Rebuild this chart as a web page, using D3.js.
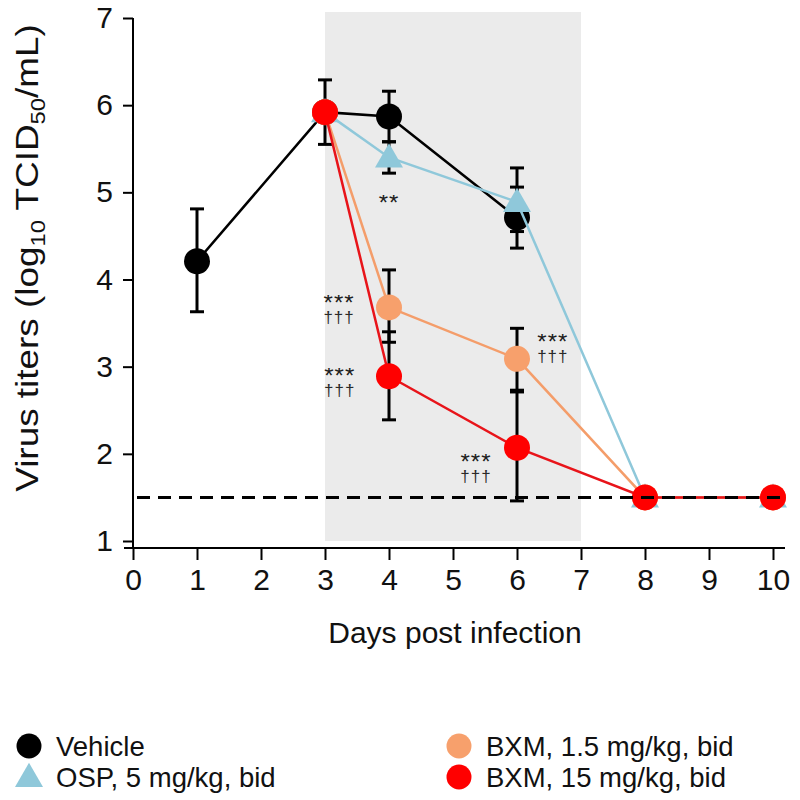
<!DOCTYPE html>
<html><head><meta charset="utf-8">
<script src="https://cdn.jsdelivr.net/npm/d3@7"></script>
<style>
html,body{margin:0;padding:0;background:#fff;}
text{font-family:Arial,"Liberation Sans",sans-serif;fill:#111;}
.annot{font-family:Arial,"Liberation Sans",sans-serif;color:#2a2a2a;text-align:center;white-space:pre;
  font-size:17px;line-height:15px;letter-spacing:1px;}
.annot::first-line{font-size:24px;color:#1e1e1e;}
</style></head>
<body>
<svg id="c" width="800" height="800"></svg>
<script>
// ---- data ----
const xTicks = [0,1,2,3,4,5,6,7,8,9,10];
const yTicks = [1,2,3,4,5,6,7];
const limitOfDetection = 1.5;
const treatmentWindow = [3, 7];

const vehicleDays = [1,3,4,6];
const vehicleMean = [4.21,5.92,5.87,4.71];
const vehicleHi   = [4.81,6.29,6.16,5.06];
const vehicleLo   = [3.63,5.55,5.58,4.36];

const ospDays = [3,4,6,8,10];
const ospMean = [5.92,5.40,4.89,1.5,1.5];
const ospHi   = [null,5.58,5.28,null,null];
const ospLo   = [null,5.22,4.55,null,null];

const bxmLowDays = [3,4,6,8,10];
const bxmLowMean = [5.92,3.68,3.09,1.5,1.5];
const bxmLowHi   = [null,4.11,3.44,null,null];
const bxmLowLo   = [null,3.28,2.73,null,null];

const bxmHighDays = [3,4,6,8,10];
const bxmHighMean = [5.92,2.89,2.07,1.5,1.5];
const bxmHighHi   = [null,3.40,2.71,null,null];
const bxmHighLo   = [null,2.39,1.46,null,null];

const seriesNames = ["Vehicle","OSP, 5 mg/kg, bid","BXM, 1.5 mg/kg, bid","BXM, 15 mg/kg, bid"];

// significance annotations: anchor (day, value) of the asterisk row, and the text rows
const annotDay   = [4, 3.22, 3.23, 6.56, 5.36];
const annotValue = [4.93, 3.79, 2.95, 3.34, 1.96];
const annotStars = ["**","***","***","***","***"];
const annotDaggers = ["","†††","†††","†††","†††"];

// ---- build ----
const svg = d3.select("#c");
const x = d3.scaleLinear().domain([0,10]).range([133,773]);
const y = d3.scaleLinear().domain([1,7]).range([541,18]);

const series = [
  {name:seriesNames[0], days:vehicleDays, mean:vehicleMean, hi:vehicleHi, lo:vehicleLo, color:"#000000", line:"#000000", shape:"circle"},
  {name:seriesNames[1], days:ospDays, mean:ospMean, hi:ospHi, lo:ospLo, color:"#8fc8da", line:"#8fc8da", shape:"triangle"},
  {name:seriesNames[2], days:bxmLowDays, mean:bxmLowMean, hi:bxmLowHi, lo:bxmLowLo, color:"#f7a06c", line:"#f49d6a", shape:"circle"},
  {name:seriesNames[3], days:bxmHighDays, mean:bxmHighMean, hi:bxmHighHi, lo:bxmHighLo, color:"#ff0000", line:"#e8141a", shape:"circle"}
];

// shaded treatment window
svg.append("rect")
  .attr("x", x(treatmentWindow[0])).attr("y", 12)
  .attr("width", x(treatmentWindow[1]) - x(treatmentWindow[0]))
  .attr("height", y(1) - 12)
  .attr("fill", "#ebebeb");

// axes
const yAxisG = svg.append("g").attr("transform","translate(133,0)")
  .call(d3.axisLeft(y).tickValues(yTicks).tickSize(10).tickPadding(10).tickFormat(d3.format("d")));
yAxisG.select(".domain").remove();
yAxisG.append("line").attr("x1",0).attr("x2",0).attr("y1",y(7)).attr("y2",548).attr("stroke","#000").attr("stroke-width",2);
yAxisG.selectAll(".tick line").attr("stroke","#000").attr("stroke-width",2);
yAxisG.selectAll(".tick text").attr("font-size",30).attr("fill","#111").attr("font-family","Arial, 'Liberation Sans', sans-serif");

const xAxisG = svg.append("g").attr("transform","translate(0,548)")
  .call(d3.axisBottom(x).tickValues(xTicks).tickSize(12).tickPadding(9).tickFormat(d3.format("d")));
xAxisG.select(".domain").remove();
xAxisG.append("line").attr("x1",124).attr("x2",785).attr("y1",0).attr("y2",0).attr("stroke","#000").attr("stroke-width",2);
xAxisG.selectAll(".tick line").attr("stroke","#000").attr("stroke-width",2);
xAxisG.selectAll(".tick text").attr("font-size",30).attr("fill","#111").attr("font-family","Arial, 'Liberation Sans', sans-serif");

// axis titles
svg.append("text").attr("x", (x(0)+x(10))/2+2).attr("y", 643)
  .attr("text-anchor","middle").attr("font-size",30).text("Days post infection");

const yt = svg.append("text").attr("transform","translate(38,258) rotate(-90) scale(1.19,1)")
  .attr("text-anchor","middle").attr("font-size",31);
yt.append("tspan").text("Virus titers (log");
yt.append("tspan").attr("font-size",20).attr("dy",7).text("10");
yt.append("tspan").attr("dy",-7).text(" TCID");
yt.append("tspan").attr("font-size",20).attr("dy",7).text("50");
yt.append("tspan").attr("dy",-7).text("/mL)");

const line = d3.line().x(d=>x(d.day)).y(d=>y(d.v));
const tri = d3.symbol().type(d3.symbolTriangle).size(340);

series.forEach(s=>{
  const pts = s.days.map((d,i)=>({day:d, v:s.mean[i], hi:s.hi[i], lo:s.lo[i]}));
  const g = svg.append("g");
  g.append("path").datum(pts).attr("d",line).attr("fill","none").attr("stroke",s.line).attr("stroke-width",2.5);
  const eb = pts.filter(p=>p.hi!=null);
  eb.forEach(p=>{
    g.append("line").attr("x1",x(p.day)).attr("x2",x(p.day)).attr("y1",y(p.hi)).attr("y2",y(p.lo)).attr("stroke","#000").attr("stroke-width",3);
    [p.hi,p.lo].forEach(v=>g.append("line").attr("x1",x(p.day)-7).attr("x2",x(p.day)+7).attr("y1",y(v)).attr("y2",y(v)).attr("stroke","#000").attr("stroke-width",3));
  });
  if (s.shape==="circle"){
    g.selectAll("circle.m").data(pts).join("circle").attr("class","m")
      .attr("cx",d=>x(d.day)).attr("cy",d=>y(d.v)).attr("r",13).attr("fill",s.color);
  } else {
    g.selectAll("path.m").data(pts).join("path").attr("class","m")
      .attr("d",tri).attr("transform",d=>`translate(${x(d.day)},${y(d.v)+2})`).attr("fill",s.color);
  }
});

// limit of detection dashed line
svg.append("line").attr("x1",137).attr("x2",785).attr("y1",y(limitOfDetection)).attr("y2",y(limitOfDetection))
  .attr("stroke","#000").attr("stroke-width",3).attr("stroke-dasharray","13,8");

// annotations: stars row + dagger row as one two-line text block
annotStars.forEach((st,i)=>{
  const cx = x(annotDay[i]), cy = y(annotValue[i]);
  const fo = svg.append("foreignObject").attr("x",cx-30).attr("y",cy-3).attr("width",60).attr("height",40);
  fo.append("xhtml:div").attr("class","annot")
    .text(annotDaggers[i] ? st + "\n" + annotDaggers[i] : st);
});

// legend
const legX = [29, 459];
const legY = [746, 777];
const legPos = [[0,0],[0,1],[1,0],[1,1]];
series.forEach((s,i)=>{
  const lx = legX[legPos[i][0]], ly = legY[legPos[i][1]];
  if (s.shape==="circle") svg.append("circle").attr("cx",lx).attr("cy",ly).attr("r",12.5).attr("fill",s.color);
  else svg.append("path").attr("d",d3.symbol().type(d3.symbolTriangle).size(340)).attr("transform",`translate(${lx},${ly+2})`).attr("fill",s.color);
  svg.append("text").attr("x",lx+27).attr("y",ly).attr("dy","0.35em").attr("font-size",27.5).text(s.name);
});
</script>
</body></html>
